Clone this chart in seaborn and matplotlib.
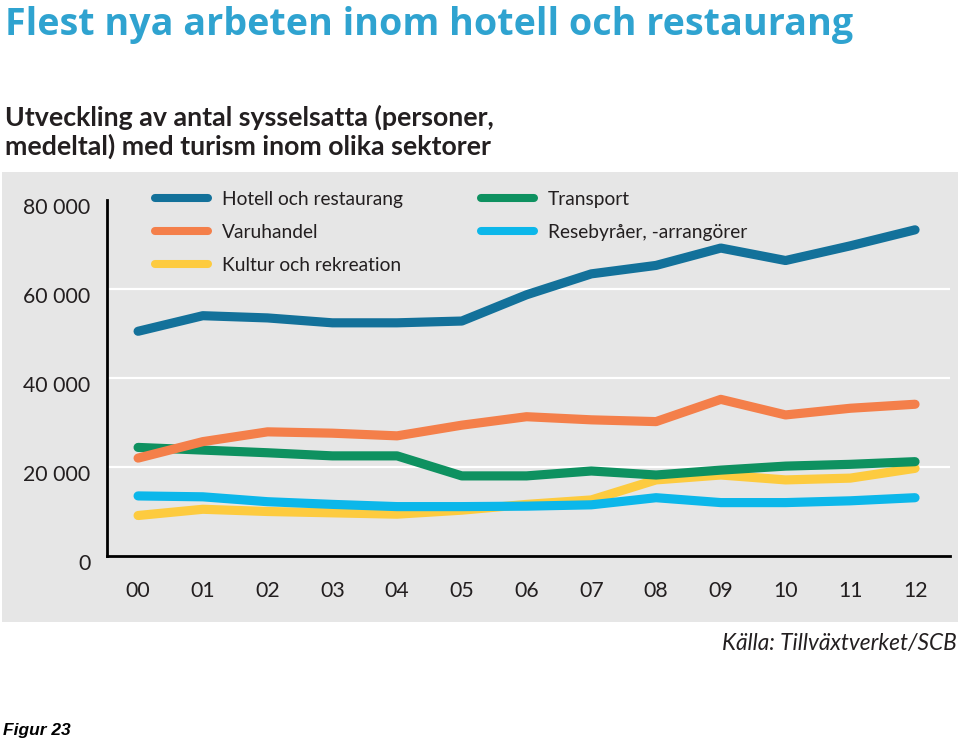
import numpy as np
import pandas as pd
import seaborn as sns
import matplotlib.pyplot as plt
from matplotlib.patches import Rectangle
from matplotlib.ticker import FuncFormatter
from matplotlib.transforms import ScaledTranslation

# --- Data ---
years = list(range(2000, 2013))
hotell = [50500, 54000, 53500, 52400, 52400, 52800, 58700, 63400, 65300, 69200, 66400, 69700, 73300]
varuhandel = [22000, 25700, 27900, 27600, 27000, 29400, 31300, 30600, 30200, 35200, 31700, 33200, 34100]
kultur = [9100, 10500, 10000, 9700, 9400, 10300, 11600, 12600, 17100, 18200, 17100, 17500, 19700]
transport = [24400, 23800, 23200, 22500, 22500, 18000, 18000, 19100, 18200, 19300, 20200, 20600, 21200]
resebyraer = [13500, 13300, 12200, 11600, 11100, 11100, 11200, 11500, 13100, 12000, 12000, 12400, 13100]

sectors = ["Hotell och restaurang", "Varuhandel", "Kultur och rekreation",
           "Transport", "Resebyråer, -arrangörer"]
series = [hotell, varuhandel, kultur, transport, resebyraer]
colors = ["#13719a", "#f47f4a", "#fdcb3f", "#0e9160", "#0cb7ea"]
zorders = [6, 5, 2, 4, 3]

TITLE = "Flest nya arbeten inom hotell och restaurang"
SUBTITLE = "Utveckling av antal sysselsatta (personer,\nmedeltal) med turism inom olika sektorer"
SOURCE = "Källa: Tillväxtverket/SCB"
FIGNOTE = "Figur 23"

W, H = 960, 742
BG = "#e6e6e6"
TXT = "#231f20"

df = pd.DataFrame({
    "year": years * len(sectors),
    "value": [v for s in series for v in s],
    "sektor": [name for name, s in zip(sectors, series) for _ in s],
})

sns.set_theme(style="white")
plt.rcParams["font.family"] = ["Lato", "DejaVu Sans"]

fig = plt.figure(figsize=(W / 100, H / 100), dpi=100)
fig.patch.set_facecolor("white")

# gray panel behind the chart
fig.patches.append(Rectangle((2 / W, 1 - 622 / H), 956 / W, 450 / H,
                             transform=fig.transFigure, facecolor=BG,
                             edgecolor="none", zorder=-1))

ax = fig.add_axes([107 / W, 1 - 556 / H, (950 - 107) / W, (556 - 200) / H])
ax.set_facecolor("none")

sns.lineplot(data=df, x="year", y="value", hue="sektor", hue_order=sectors,
             palette=dict(zip(sectors, colors)), linewidth=6.6, ax=ax,
             legend=True)

for line, z in zip(ax.get_lines(), zorders):
    line.set_zorder(z)
    line.set_solid_capstyle("round")
    line.set_solid_joinstyle("round")

ax.set_xlim(years[0] - 0.48, years[-1] + 0.54)
ax.set_ylim(0, 80000)
ax.set_yticks([0, 20000, 40000, 60000, 80000])
ax.set_xticks(years)
ax.set_xticklabels([f"{y % 100:02d}" for y in years])
ax.yaxis.set_major_formatter(FuncFormatter(lambda v, p: f"{v:,.0f}".replace(",", " ")))

for yv in [20000, 40000, 60000]:
    ax.axhline(yv, color="white", linewidth=1.6, zorder=1)

for side in ["top", "right"]:
    ax.spines[side].set_visible(False)
for side in ["left", "bottom"]:
    ax.spines[side].set_color("black")
    ax.spines[side].set_linewidth(2)

ax.tick_params(axis="both", length=0, labelsize=15.3, labelcolor=TXT)
ax.tick_params(axis="y", pad=12)
ax.tick_params(axis="x", pad=18)
for lab in ax.get_yticklabels():
    lab.set_transform(lab.get_transform() + ScaledTranslation(0, -6 / 100, fig.dpi_scale_trans))
ax.set_xlabel("")
ax.set_ylabel("")

handles, labels = ax.get_legend_handles_labels()
for h in handles:
    h.set_linewidth(5.8)
    h.set_solid_capstyle("round")
ax.legend(handles, labels, ncol=2, loc="upper left", frameon=False,
          bbox_to_anchor=(155 / W, 1 - 191 / H), bbox_transform=fig.transFigure,
          fontsize=13.8, handlelength=2.75, handletextpad=0.73, columnspacing=4.1,
          labelspacing=0.83, borderpad=0, borderaxespad=0, labelcolor=TXT)

fig.text(5 / W, 1 - 25 / H, TITLE, color="#2fa3d0", fontsize=27.1, fontweight="bold",
         family=["Open Sans", "DejaVu Sans"], va="center", ha="left")
fig.text(5 / W, 1 - 132 / H, SUBTITLE, color=TXT, fontsize=19.3, fontweight="bold",
         family=["Lato", "DejaVu Sans"], va="center", ha="left", linespacing=1.15)
fig.text(957 / W, 1 - 650 / H, SOURCE, color=TXT, fontsize=16.3, style="italic",
         family=["Lato", "DejaVu Sans"], va="baseline", ha="right")
fig.text(3 / W, 1 - 735 / H, FIGNOTE, color="black", fontsize=12.5, style="italic",
         fontweight="bold", family=["Liberation Sans", "DejaVu Sans"], va="baseline", ha="left")

fig.savefig("out.png", dpi=100, facecolor="white")
